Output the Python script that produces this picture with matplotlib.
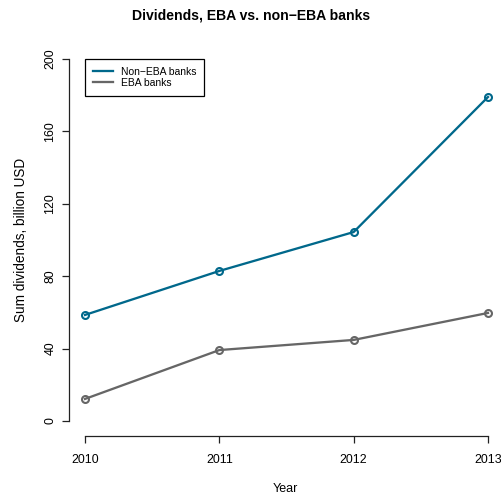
import matplotlib
matplotlib.use("Agg")
import matplotlib.pyplot as plt

years = [2010, 2011, 2012, 2013]
non_eba = [58.6, 82.9, 104.4, 179.0]
eba = [12.2, 39.2, 44.8, 59.7]
y_ticks = [0, 40, 80, 120, 160, 200]

BLUE = "#00688B"
GRAY = "#666666"

plt.rcParams["font.family"] = ["Liberation Sans", "DejaVu Sans"]

W, H = 502, 495
fig = plt.figure(figsize=(W / 100, H / 100), dpi=100)
left, right, top, bottom = 69, 502, 44.5, 435.5
ax = fig.add_axes([left / W, 1 - bottom / H, (right - left) / W, (bottom - top) / H])

px_per_year = (488 - 85) / 3
ax.set_xlim(2010 - (85 - left) / px_per_year, 2010 + (right - 85) / px_per_year)
ax.set_ylim(-8, 208)

ax.plot(years, non_eba, color=BLUE, lw=1.65, marker="o", ms=5.0,
        mfc="none", mew=1.5, label="Non\u2212EBA banks", clip_on=False)
ax.plot(years, eba, color=GRAY, lw=1.65, marker="o", ms=5.0,
        mfc="none", mew=1.5, label="EBA banks", clip_on=False)

for s in ["top", "right"]:
    ax.spines[s].set_visible(False)
ax.spines["left"].set_bounds(0, 200)
ax.spines["bottom"].set_bounds(2010, 2013)
for s in ["left", "bottom"]:
    ax.spines[s].set_linewidth(0.9)
    ax.spines[s].set_color("#222222")

ax.set_xticks(years)
ax.set_xticklabels([str(y) for y in years])
ax.set_yticks(y_ticks)
ax.set_yticklabels([str(v) for v in y_ticks], rotation=90, va="center")
ax.tick_params(axis="both", direction="out", length=5, width=0.9,
               color="#222222", labelsize=8.9)
ax.tick_params(axis="x", pad=8.5)
ax.tick_params(axis="y", pad=4)

ax.set_xlabel("Year", fontsize=9.0, labelpad=12)
ax.set_ylabel("Sum dividends, billion USD", fontsize=9.8, labelpad=12)
fig.text(0.5 + 0.0, 1 - 15 / H, "Dividends, EBA vs. non\u2212EBA banks",
         ha="center", va="center", fontsize=10.1, fontweight="bold")

leg = ax.legend(loc="upper left", bbox_to_anchor=((85 - left) / (right - left), (bottom - 59) / (bottom - top)),
                frameon=True, fancybox=False, edgecolor="black", framealpha=1,
                fontsize=7.5, handlelength=1.9, handletextpad=0.8,
                borderpad=0.75, labelspacing=0.12, borderaxespad=0)
leg.get_frame().set_linewidth(0.9)
for h in leg.legend_handles:
    h.set_marker("")

fig.savefig("out.png", dpi=100)
